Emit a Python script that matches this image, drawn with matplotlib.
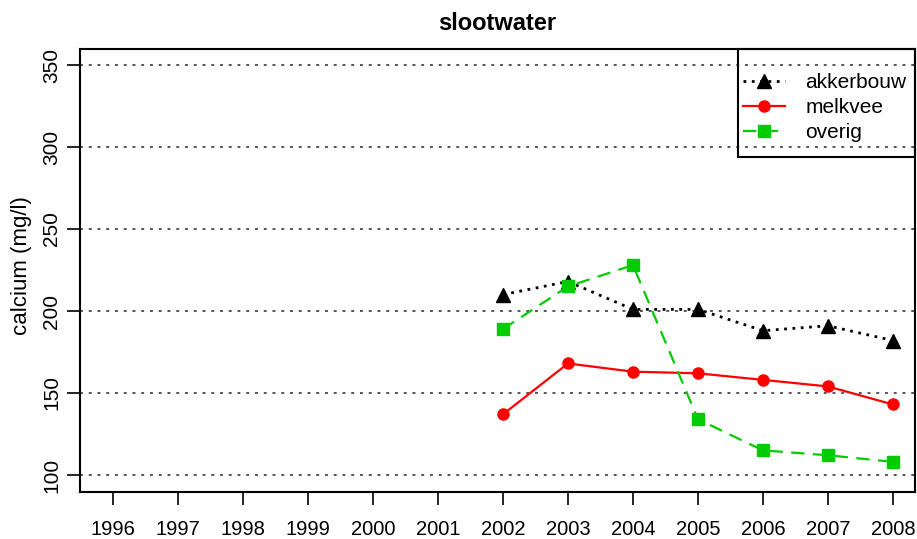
import matplotlib
matplotlib.use('Agg')
import matplotlib.pyplot as plt
from matplotlib.patches import Rectangle

plt.rcParams['font.family'] = ['Liberation Sans', 'DejaVu Sans']

#########################################################
# Data
#########################################################
years = [2002, 2003, 2004, 2005, 2006, 2007, 2008]
akkerbouw = [210, 218, 201, 201, 188, 191, 182]
melkvee = [137, 168, 163, 162, 158, 154, 143]
overig = [189, 215, 228, 134, 115, 112, 108]
x_ticks = list(range(1996, 2009))
y_ticks = [100, 150, 200, 250, 300, 350]

#########################################################
# Plot
#########################################################
fig = plt.figure(figsize=(9.17, 5.39), dpi=100)
ax = fig.add_axes([0.0872, 0.0872, 0.9106, 0.8218])

for yv in y_ticks:
    ax.axhline(yv, color='#555555', linestyle=(0, (1.5, 3)), linewidth=1.4, zorder=1)

ax.plot(years, akkerbouw, color='black', linestyle=(0, (1, 2)), linewidth=2.0,
        marker='^', markersize=10, label='akkerbouw', zorder=3)
ax.plot(years, melkvee, color='#ff0000', linestyle='-', linewidth=1.6,
        marker='o', markersize=8, label='melkvee', zorder=3)
ax.plot(years, overig, color='#00cc00', linestyle=(0, (6, 3.8)), linewidth=1.6,
        marker='s', markersize=9, label='overig', zorder=3)

ax.set_xlim(1995.49, 2008.34)
ax.set_ylim(89.6, 359.8)
ax.set_xticks(x_ticks)
ax.set_yticks(y_ticks)
ax.tick_params(axis='both', direction='out', length=9.5, width=1.2, labelsize=14.5)
ax.tick_params(axis='x', pad=11)
ax.tick_params(axis='y', pad=4, labelsize=15)
for lbl in ax.get_yticklabels():
    lbl.set_rotation(90)
    lbl.set_va('center')
for s in ax.spines.values():
    s.set_linewidth(1.5)

ax.set_ylabel('calcium (mg/l)', fontsize=16)
ax.yaxis.set_label_coords(-0.0575, 0.512)
ax.set_title('slootwater', fontsize=17, fontweight='bold', pad=14)

leg = ax.legend(loc='center left', bbox_to_anchor=(0.794, 0.868), fontsize=15,
                frameon=False, borderaxespad=0, borderpad=0, handlelength=2.0,
                labelspacing=0.28, handletextpad=1.0)
ax.add_patch(Rectangle((0.788, 0.756), 0.212, 0.244, transform=ax.transAxes,
                       fill=False, edgecolor='black', linewidth=1.5, clip_on=False, zorder=5))

plt.savefig('out.png', dpi=100)
